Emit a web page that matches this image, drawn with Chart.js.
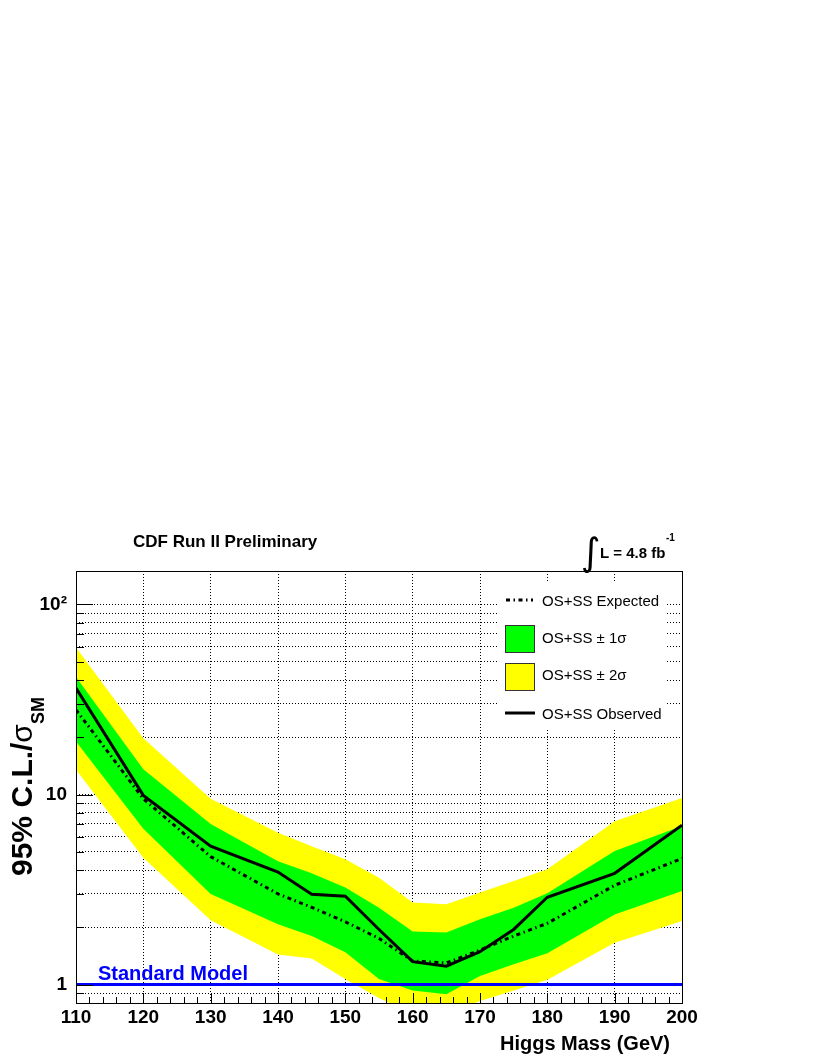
<!DOCTYPE html>
<html>
<head>
<meta charset="utf-8">
<script src="https://cdn.jsdelivr.net/npm/chart.js@4.4.0/dist/chart.umd.min.js"></script>
<style>
    body { margin: 0; background: #fff; }
    canvas { display: block; }
</style>
</head>
<body>
<canvas id="limits" width="817" height="1058"></canvas>
<script>
// Higgs mass points (GeV) and limit values
const masses = [110, 120, 130, 140, 145, 150, 155, 160, 165, 170, 175, 180, 190, 200]
const observed = [36.3, 9.9, 5.35, 3.91, 2.99, 2.92, 1.95, 1.32, 1.25, 1.49, 1.95, 2.88, 3.85, 6.90]
const expected = [27.9, 9.5, 4.71, 3.0, 2.55, 2.14, 1.75, 1.33, 1.30, 1.52, 1.80, 2.10, 3.33, 4.61]
const oneSigmaUp = [41.5, 13.6, 7.0, 4.45, 3.85, 3.24, 2.54, 1.90, 1.88, 2.21, 2.54, 3.02, 5.04, 6.82]
const oneSigmaDown = [19.0, 6.6, 3.0, 2.08, 1.80, 1.48, 1.07, 0.93, 0.89, 1.11, 1.28, 1.46, 2.34, 3.11]
const twoSigmaUp = [59.3, 19.8, 9.5, 6.3, 5.35, 4.56, 3.65, 2.70, 2.65, 3.05, 3.51, 4.04, 7.24, 9.6]
const twoSigmaDown = [13.5, 4.65, 2.18, 1.44, 1.37, 1.07, 0.85, 0.70, 0.70, 0.82, 0.93, 1.06, 1.66, 2.16]

const smMasses = [110, 200]
const smLevel = [1, 1]

const yTicks = [0.9, 1, 2, 3, 4, 5, 6, 7, 8, 9, 10, 20, 30, 40, 50, 60, 70, 80, 90, 100]
const yLabels = { 1: '1', 10: '10', 100: '10²' }
const xMin = 110, xMax = 200, xStep = 10
const yMin = 0.8, yMax = 150

const FONT = '"Liberation Sans", Arial, Helvetica, sans-serif'
const YELLOW = '#ffff00', GREEN = '#00ff00', BLUE = '#0000ff'
const EXP_DASH = [4, 3.5, 1.5, 3.5]

function pts(xs, ys) {
    return xs.map((x, i) => ({ x: x, y: ys[i] }))
}

function band(data, color, fillTo, order) {
    return {
        data: data, borderWidth: 0, pointRadius: 0, backgroundColor: color,
        fill: fillTo, order: order
    }
}

// tick marks inside the frame + the frame itself
const frame = {
    id: 'frame',
    afterDraw(chart) {
        const ctx = chart.ctx, a = chart.chartArea
        const xs = chart.scales.x, ys = chart.scales.y
        ctx.save()
        ctx.strokeStyle = '#000'
        ctx.lineWidth = 1
        ctx.beginPath()
        yTicks.forEach(v => {
            const py = Math.round(ys.getPixelForValue(v)) + 0.5
            const len = yLabels[v] ? 17 : 8
            ctx.moveTo(a.left, py)
            ctx.lineTo(a.left + len, py)
        })
        for (let m = xMin; m <= xMax; m += 2) {
            const px = Math.round(xs.getPixelForValue(m)) + 0.5
            const len = m % 10 === 0 ? 10 : 6
            ctx.moveTo(px, a.bottom)
            ctx.lineTo(px, a.bottom - len)
        }
        ctx.stroke()
        ctx.strokeRect(a.left + 0.5, a.top + 0.5, a.right - a.left, a.bottom - a.top)
        ctx.restore()
    }
}

// legend box drawn inside the plot, top right
const boxLegend = {
    id: 'boxLegend',
    afterDraw(chart) {
        const ctx = chart.ctx
        ctx.save()
        ctx.fillStyle = '#fff'
        ctx.fillRect(499, 583, 168, 147)

        ctx.strokeStyle = '#000'
        ctx.lineWidth = 3
        ctx.setLineDash(EXP_DASH)
        ctx.beginPath(); ctx.moveTo(506, 600); ctx.lineTo(533, 600); ctx.stroke()
        ctx.setLineDash([])
        ctx.beginPath(); ctx.moveTo(505, 713); ctx.lineTo(535, 713); ctx.stroke()

        ctx.lineWidth = 1
        ctx.strokeStyle = '#333'
        ctx.fillStyle = GREEN
        ctx.fillRect(505.5, 625.5, 29, 27); ctx.strokeRect(505.5, 625.5, 29, 27)
        ctx.fillStyle = YELLOW
        ctx.fillRect(505.5, 663.5, 29, 27); ctx.strokeRect(505.5, 663.5, 29, 27)

        ctx.fillStyle = '#000'
        ctx.font = '15px ' + FONT
        ctx.textBaseline = 'alphabetic'
        ctx.fillText('OS+SS Expected', 542, 606)
        ctx.fillText('OS+SS \u00b1 1\u03c3', 542, 643)
        ctx.fillText('OS+SS \u00b1 2\u03c3', 542, 680)
        ctx.fillText('OS+SS Observed', 542, 719)
        ctx.restore()
    }
}

// titles and annotations
const labels = {
    id: 'labels',
    afterDraw(chart) {
        const ctx = chart.ctx
        ctx.save()
        ctx.textBaseline = 'alphabetic'
        ctx.fillStyle = '#000'

        ctx.font = 'bold 17px ' + FONT
        ctx.fillText('CDF Run II Preliminary', 133, 547)

        ctx.font = '38px "DejaVu Sans", ' + FONT
        ctx.fillText('\u222b', 581, 565)
        ctx.font = 'bold 15px ' + FONT
        ctx.fillText('L = 4.8 fb', 600, 558)
        ctx.font = 'bold 10px ' + FONT
        ctx.fillText('-1', 666, 541)

        ctx.font = 'bold 20px ' + FONT
        ctx.textAlign = 'right'
        ctx.fillText('Higgs Mass (GeV)', 670, 1050)
        ctx.textAlign = 'left'

        ctx.fillStyle = BLUE
        ctx.fillText('Standard Model', 98, 980)

        // rotated y title: 95% C.L./sigma_SM
        ctx.fillStyle = '#000'
        ctx.translate(32, 876)
        ctx.rotate(-Math.PI / 2)
        ctx.font = 'bold 30px ' + FONT
        const main = '95% C.L./'
        ctx.fillText(main, 0, 0)
        let w = ctx.measureText(main).width
        ctx.font = '30px ' + FONT
        ctx.fillText('\u03c3', w, 0)
        w += ctx.measureText('\u03c3').width
        ctx.font = 'bold 18px ' + FONT
        ctx.fillText('SM', w, 12)
        ctx.restore()
    }
}

new Chart(document.getElementById('limits'), {
    type: 'line',
    data: {
        datasets: [
            band(pts(masses, twoSigmaUp), YELLOW, 1, 6),
            band(pts(masses, twoSigmaDown), YELLOW, false, 6),
            band(pts(masses, oneSigmaUp), GREEN, 3, 5),
            band(pts(masses, oneSigmaDown), GREEN, false, 5),
            {
                data: pts(smMasses, smLevel), borderColor: BLUE, borderWidth: 3,
                pointRadius: 0, fill: false, order: 3
            },
            {
                data: pts(masses, expected), borderColor: '#000', borderWidth: 3,
                borderDash: EXP_DASH, pointRadius: 0, fill: false, order: 2
            },
            {
                data: pts(masses, observed), borderColor: '#000', borderWidth: 3,
                pointRadius: 0, fill: false, order: 1
            }
        ]
    },
    options: {
        responsive: false,
        animation: false,
        layout: { padding: { top: 571, right: 135, left: 0, bottom: 0 } },
        plugins: {
            legend: { display: false },
            tooltip: { enabled: false }
        },
        elements: { line: { tension: 0 } },
        scales: {
            x: {
                type: 'linear', min: xMin, max: xMax, z: 1,
                afterFit: s => { s.height = 55 },
                ticks: {
                    stepSize: xStep, autoSkip: false, maxRotation: 0, padding: 3,
                    color: '#000', font: { family: FONT, size: 19, weight: 'bold' }
                },
                grid: { color: '#000', lineWidth: 1, drawTicks: false },
                border: { display: false, dash: [1, 2] }
            },
            y: {
                type: 'logarithmic', min: yMin, max: yMax, z: 1,
                afterFit: s => { s.width = 76 },
                afterBuildTicks: s => { s.ticks = yTicks.map(v => ({ value: v })) },
                ticks: {
                    autoSkip: false, padding: 9, color: '#000',
                    font: { family: FONT, size: 19, weight: 'bold' },
                    callback: v => yLabels[v] || ''
                },
                grid: { color: '#000', lineWidth: 1, drawTicks: false },
                border: { display: false, dash: [1, 2] }
            }
        }
    },
    plugins: [frame, boxLegend, labels]
})
</script>
</body>
</html>
